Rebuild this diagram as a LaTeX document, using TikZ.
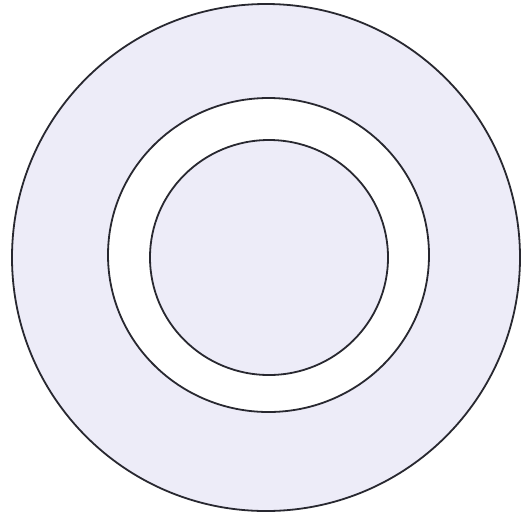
\documentclass[tikz,border=0pt]{standalone}
\definecolor{lav}{RGB}{237,236,248}
\definecolor{ring}{RGB}{40,40,48}
\begin{document}
\begin{tikzpicture}[x=1pt,y=-1pt,ringline/.style={draw=ring,line width=1.8pt}]
\useasboundingbox (0,0) rectangle (521,515);
\fill[white] (0,0) rectangle (521,515);
\path[ringline,fill=lav] (266,257.5) ellipse [x radius=254,y radius=253.5];
\path[ringline,fill=white] (268.5,255) ellipse [x radius=160.5,y radius=157];
\path[ringline,fill=lav] (269,257.5) ellipse [x radius=119,y radius=117.5];
\end{tikzpicture}
\end{document}
